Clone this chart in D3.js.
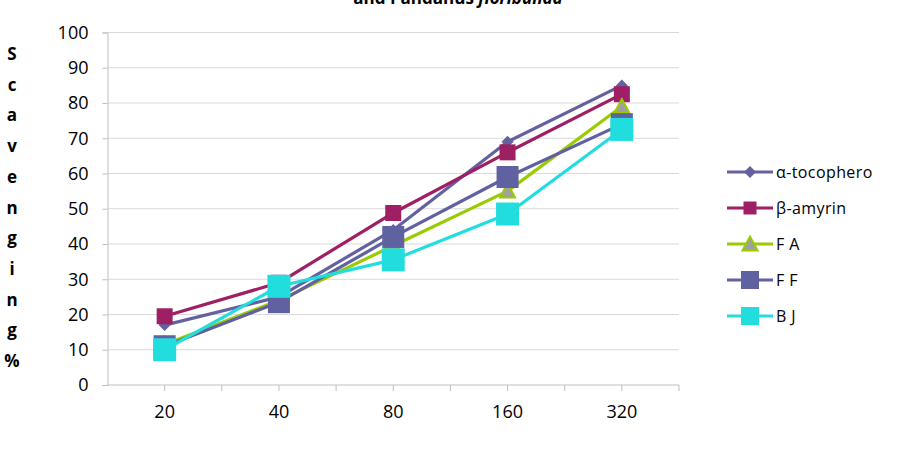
<!DOCTYPE html>
<html><head><meta charset="utf-8">
<script src="https://cdn.jsdelivr.net/npm/d3@7"></script>
<style>body{margin:0;background:#fff;}svg{display:block;}</style>
</head><body><svg id="c" width="902" height="458"></svg>
<script>
const categories = ["20","40","80","160","320"];
const alphaToc = [17, 25, 44, 69, 85];
const betaAmyrin = [19.5, 29, 48.8, 66, 82.5];
const fa = [11.5, 24, 39.5, 55, 79];
const ff = [11, 23.5, 42, 59, 74];
const bj = [10, 28, 35.5, 48.5, 72.5];
const seriesNames = ["α-tocophero","β-amyrin","F A","F F","B J"];
const yTicks = [0,10,20,30,40,50,60,70,80,90,100];
const yTitle = ["S","c","a","v","e","n","g","i","n","g","%"];

const series = [
  {name: seriesNames[0], values: alphaToc, color: "#6461A0", marker: "diamond", size: 12, fill: "#6461A0", stroke: "none"},
  {name: seriesNames[1], values: betaAmyrin, color: "#9E1F63", marker: "square", size: 16, fill: "#9E1F63", stroke: "none"},
  {name: seriesNames[2], values: fa, color: "#99CC00", marker: "triangle", size: 15, fill: "#A0A0A0", stroke: "#99CC00"},
  {name: seriesNames[3], values: ff, color: "#6061A0", marker: "square", size: 22, fill: "#6061A0", stroke: "none"},
  {name: seriesNames[4], values: bj, color: "#22DDDD", marker: "square", size: 23, fill: "#22DDDD", stroke: "none"}
];

const svg = d3.select("#c");
const L = 107.5, R = 679, T = 32.5, B = 385;
const x = d3.scaleBand().domain(categories).range([L, R]);
const y = d3.scaleLinear().domain([0, 100]).range([B, T]);
const font = "'Open Sans', 'Noto Sans', sans-serif";

// title (cut off at top, as in the reference)
svg.append("text").attr("x", 458).attr("y", 4).attr("text-anchor", "middle")
  .attr("font-family", font).attr("font-size", 17).attr("font-weight", "bold").attr("fill", "#000")
  .html("and Pandanus <tspan font-style='italic'>floribunda</tspan>");

// gridlines
svg.append("g").selectAll("line").data(yTicks.filter(d => d > 0)).join("line")
  .attr("x1", L).attr("x2", R).attr("y1", d => y(d)).attr("y2", d => y(d))
  .attr("stroke", "#D9D9D9").attr("stroke-width", 1);

// y axis
const yAxis = svg.append("g").attr("transform", `translate(${L},0)`)
  .call(d3.axisLeft(y).tickValues(yTicks).tickSize(5).tickPadding(14));
yAxis.select(".domain").attr("stroke", "#BFBFBF");
yAxis.selectAll(".tick line").attr("stroke", "#BFBFBF");
yAxis.selectAll("text").attr("font-family", font).attr("font-size", 18).attr("fill", "#000");

// x axis
const xAxis = svg.append("g").attr("transform", `translate(0,${B})`)
  .call(d3.axisBottom(x).tickSize(0).tickPadding(20));
xAxis.select(".domain").attr("stroke", "#BFBFBF").attr("d", `M${L},0H${R}`);
xAxis.selectAll("text").attr("font-family", font).attr("font-size", 18).attr("fill", "#000");
const tickPos = [];
categories.forEach(c => { tickPos.push(x(c) + x.bandwidth()/2); tickPos.push(x(c) + x.bandwidth()); });
svg.append("g").selectAll("line").data(tickPos).join("line")
  .attr("x1", d => d).attr("x2", d => d).attr("y1", B).attr("y2", B + 6)
  .attr("stroke", "#BFBFBF");

// y title
svg.append("g").selectAll("text").data(yTitle).join("text")
  .attr("x", 12).attr("y", (d, i) => 60 + i * 30.7).attr("text-anchor", "middle")
  .attr("font-family", font).attr("font-size", 17).attr("font-weight", "bold").attr("fill", "#000")
  .text(d => d);

function markerPath(type, s) {
  const h = s / 2;
  if (type === "diamond") return `M0,${-h}L${h},0L0,${h}L${-h},0Z`;
  if (type === "triangle") return `M0,${-h}L${h},${h*0.85}L${-h},${h*0.85}Z`;
  return `M${-h},${-h}H${h}V${h}H${-h}Z`;
}

const line = d3.line().x((d, i) => x(categories[i]) + x.bandwidth()/2).y(d => y(d));
const plot = svg.append("g");
series.forEach(s => {
  const g = plot.append("g");
  g.append("path").datum(s.values).attr("d", line).attr("fill", "none")
    .attr("stroke", s.color).attr("stroke-width", 3.2).attr("stroke-linejoin", "round");
  g.selectAll("path.m").data(s.values).join("path").attr("class", "m")
    .attr("transform", (d, i) => `translate(${x(categories[i]) + x.bandwidth()/2},${y(d)})`)
    .attr("d", markerPath(s.marker, s.size))
    .attr("fill", s.fill).attr("stroke", s.stroke).attr("stroke-width", 2);
});

// legend
const leg = svg.append("g");
series.forEach((s, i) => {
  const ly = 172 + i * 36;
  const g = leg.append("g").attr("transform", `translate(0,${ly})`);
  g.append("line").attr("x1", 727).attr("x2", 773).attr("y1", 0).attr("y2", 0)
    .attr("stroke", s.color).attr("stroke-width", 3.2);
  g.append("path").attr("transform", "translate(750,0)")
    .attr("d", markerPath(s.marker, s.marker === "square" ? (s.size > 18 ? 18 : 13) : s.size))
    .attr("fill", s.fill).attr("stroke", s.stroke).attr("stroke-width", 2);
  g.append("text").attr("x", 776).attr("y", 6).attr("font-family", font).attr("font-size", 16)
    .attr("letter-spacing", 0.4).attr("fill", "#000").text(s.name);
});
</script></body></html>
